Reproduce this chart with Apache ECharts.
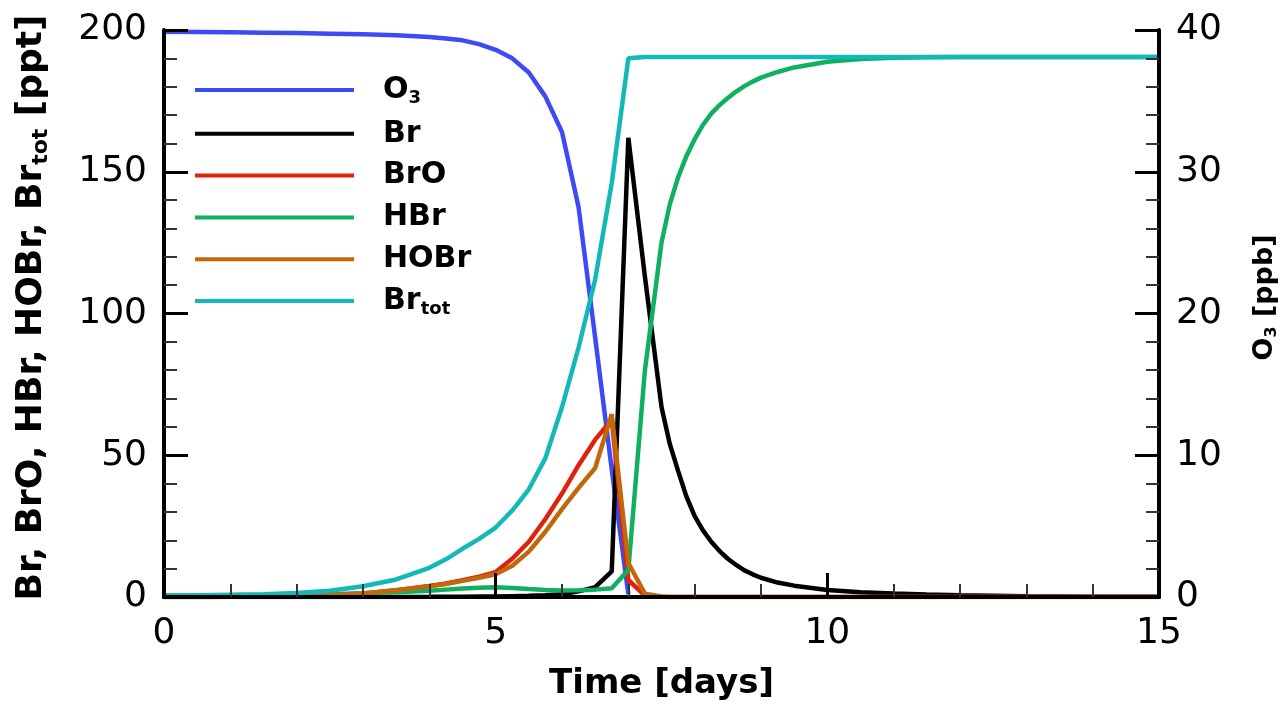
<!DOCTYPE html>
<html>
<head>
<meta charset="utf-8">
<script src="https://cdn.jsdelivr.net/npm/echarts@6/dist/echarts.min.js"></script>
<style>
  html, body { margin: 0; padding: 0; background: #fff; }
  #chart { width: 1283px; height: 704px; }
</style>
</head>
<body>
<div id="chart"></div>
<script>
// Model time axis [days]
const days = [0, 0.5, 1, 1.5, 2, 2.5, 3, 3.5, 4, 4.25, 4.5, 4.75, 5, 5.25, 5.5, 5.75,
  6, 6.25, 6.5, 6.75, 7, 7.25, 7.5, 7.625, 7.75, 7.875, 8, 8.125, 8.25, 8.375, 8.5,
  8.625, 8.75, 8.875, 9, 9.25, 9.5, 10, 10.5, 11, 11.5, 12, 13, 14, 15];

// Ozone mixing ratio [ppb] (right axis)
const o3 = [39.88, 39.86, 39.84, 39.81, 39.78, 39.74, 39.7, 39.63, 39.5, 39.4, 39.27, 39.0, 38.6, 38.0, 37.0, 35.3,
  32.8, 27.5, 18.3, 9.0, 0.2, null, null, null, null, null, null, null, null, null, null,
  null, null, null, null, null, null, null, null, null, null, null, null, null, null];

// Bromine species [ppt] (left axis)
const br = [0, 0, 0, 0, 0, 0, 0, 0, 0.05, 0.1, 0.1, 0.15, 0.2, 0.3, 0.4, 0.6,
  1.0, 2.0, 3.5, 9, 162, 113, 67, 54, 44.5, 35.5, 28.5, 23.5, 19.5, 16.2, 13.5,
  11.3, 9.4, 8.0, 6.8, 5.1, 4.0, 2.5, 1.7, 1.2, 0.85, 0.6, 0.3, 0.12, 0.05];

const bro = [0, 0, 0.05, 0.1, 0.3, 0.6, 1.2, 2.4, 3.9, 4.8, 5.9, 7.2, 8.8, 13.5, 19.5, 27.5,
  36.5, 46.5, 55.5, 62.5, 6, 0.5, 0.1, 0, 0, 0, 0, 0, 0, 0, 0,
  0, 0, 0, 0, 0, 0, 0, 0, 0, 0, 0, 0, 0, 0];

const hbr = [0.5, 0.55, 0.6, 0.7, 0.8, 1.0, 1.3, 1.7, 2.2, 2.6, 3.0, 3.3, 3.4, 3.2, 2.8, 2.5,
  2.3, 2.4, 2.6, 3.1, 9.5, 80, 125, 138.5, 148, 155.5, 161.5, 166.5, 170.5, 173.5, 176,
  178.3, 180.2, 181.8, 183.2, 185.2, 186.8, 188.8, 189.8, 190.2, 190.4, 190.5, 190.5, 190.5, 190.5];

const hobr = [0, 0, 0.05, 0.1, 0.3, 0.6, 1.2, 2.4, 3.8, 4.6, 5.7, 6.8, 8.0, 11, 16, 23,
  31, 38.5, 45.5, 64.5, 12, 1.2, 0.2, 0, 0, 0, 0, 0, 0, 0, 0,
  0, 0, 0, 0, 0, 0, 0, 0, 0, 0, 0, 0, 0, 0];

const brtot = [0.5, 0.6, 0.8, 1.0, 1.4, 2.2, 3.8, 6.2, 10.3, 13.3, 17, 20.5, 24.5, 30.5, 38, 49,
  67, 88, 112, 146, 190, 190.5, 190.5, 190.5, 190.5, 190.5, 190.5, 190.5, 190.5, 190.5, 190.5,
  190.5, 190.5, 190.5, 190.5, 190.5, 190.5, 190.5, 190.5, 190.5, 190.5, 190.5, 190.5, 190.5, 190.5];

const seriesNames = ['O3', 'Br', 'BrO', 'HBr', 'HOBr', 'Brtot'];
const seriesColors = ['#3d4bf5', '#000000', '#e0220c', '#0fb060', '#c0680a', '#14b8b8'];
const seriesValues = [o3, br, bro, hbr, hobr, brtot];

const FONT = 'DejaVu Sans';

const pairs = vals => days.map((d, i) => [d, vals[i]]);

// rich-text pieces for chemical names with subscripts
const richName = {
  m: { fontFamily: FONT, fontWeight: 'bold', fontSize: 30, lineHeight: 34, color: '#000' },
  s: { fontFamily: FONT, fontWeight: 'bold', fontSize: 18, lineHeight: 18, verticalAlign: 'bottom', color: '#000' }
};
const legendLabel = name => {
  if (name === 'O3') return '{m|O}{s|3}';
  if (name === 'Brtot') return '{m|Br}{s|tot}';
  return '{m|' + name + '}';
};

const axisCommon = {
  axisLine: { show: true, onZero: false, lineStyle: { color: '#000', width: 4 } },
  axisTick: { show: true, inside: true, length: 24, lineStyle: { color: '#000', width: 3 } },
  minorTick: { show: true, splitNumber: 5, length: 13, lineStyle: { color: '#333', width: 2 } },
  splitLine: { show: false },
  minorSplitLine: { show: false },
  z: 5
};

const chart = echarts.init(document.getElementById('chart'), null, { renderer: 'canvas' });

chart.setOption({
  backgroundColor: '#fff',
  animation: false,
  grid: { left: 164, right: 124, top: 30, bottom: 107, outerBoundsMode: 'none', containLabel: false },
  legend: {
    orient: 'vertical',
    left: 190,
    top: 70,
    itemWidth: 159,
    itemHeight: 4,
    itemGap: 11.8,
    icon: 'rect',
    selectedMode: false,
    data: seriesNames,
    formatter: legendLabel,
    textStyle: { padding: [0, 0, 0, 24], rich: richName }
  },
  xAxis: [
    Object.assign({}, axisCommon, {
      type: 'value', min: 0, max: 15, interval: 5, position: 'bottom',
      axisLabel: { margin: 19, fontSize: 36, color: '#000', fontFamily: FONT },
      name: 'Time [days]',
      nameLocation: 'middle',
      nameGap: 70,
      nameTextStyle: { fontFamily: FONT, fontWeight: 'bold', fontSize: 34, color: '#000' }
    }),
    {
      type: 'value', min: 0, max: 15, position: 'top',
      axisLine: { show: true, lineStyle: { color: '#000', width: 4 } },
      axisTick: { show: false }, axisLabel: { show: false }, splitLine: { show: false }, z: 5
    }
  ],
  yAxis: [
    Object.assign({}, axisCommon, {
      type: 'value', min: 0, max: 200, interval: 50, position: 'left',
      axisLabel: { margin: 17, fontSize: 36, color: '#000', fontFamily: FONT },
      name: '{m|Br, BrO, HBr, HOBr, Br}{s|tot}{m| [ppt]}',
      nameLocation: 'middle',
      nameRotate: 90,
      nameGap: 112,
      nameTextStyle: {
        padding: [0, 0, 0, 12],
        rich: {
          m: { fontFamily: FONT, fontWeight: 'bold', fontSize: 36, lineHeight: 40, color: '#000' },
          s: { fontFamily: FONT, fontWeight: 'bold', fontSize: 22, lineHeight: 22, verticalAlign: 'bottom', color: '#000' }
        }
      }
    }),
    Object.assign({}, axisCommon, {
      type: 'value', min: 0, max: 40, interval: 10, position: 'right',
      axisLabel: { margin: 17, fontSize: 36, color: '#000', fontFamily: FONT },
      name: '{m|O}{s|3}{m| [ppb]}',
      nameLocation: 'middle',
      nameRotate: 90,
      nameGap: 90,
      nameTextStyle: {
        padding: [0, 0, 0, 32],
        rich: {
          m: { fontFamily: FONT, fontWeight: 'bold', fontSize: 27, lineHeight: 31, color: '#000' },
          s: { fontFamily: FONT, fontWeight: 'bold', fontSize: 16, lineHeight: 16, verticalAlign: 'bottom', color: '#000' }
        }
      }
    })
  ],
  series: seriesNames.map((name, i) => ({
    name: name,
    type: 'line',
    xAxisIndex: 0,
    yAxisIndex: name === 'O3' ? 1 : 0,
    data: pairs(seriesValues[i]),
    showSymbol: false,
    symbol: 'none',
    color: seriesColors[i],
    lineStyle: { color: seriesColors[i], width: 4.5 },
    z: 2
  }))
});
</script>
</body>
</html>
